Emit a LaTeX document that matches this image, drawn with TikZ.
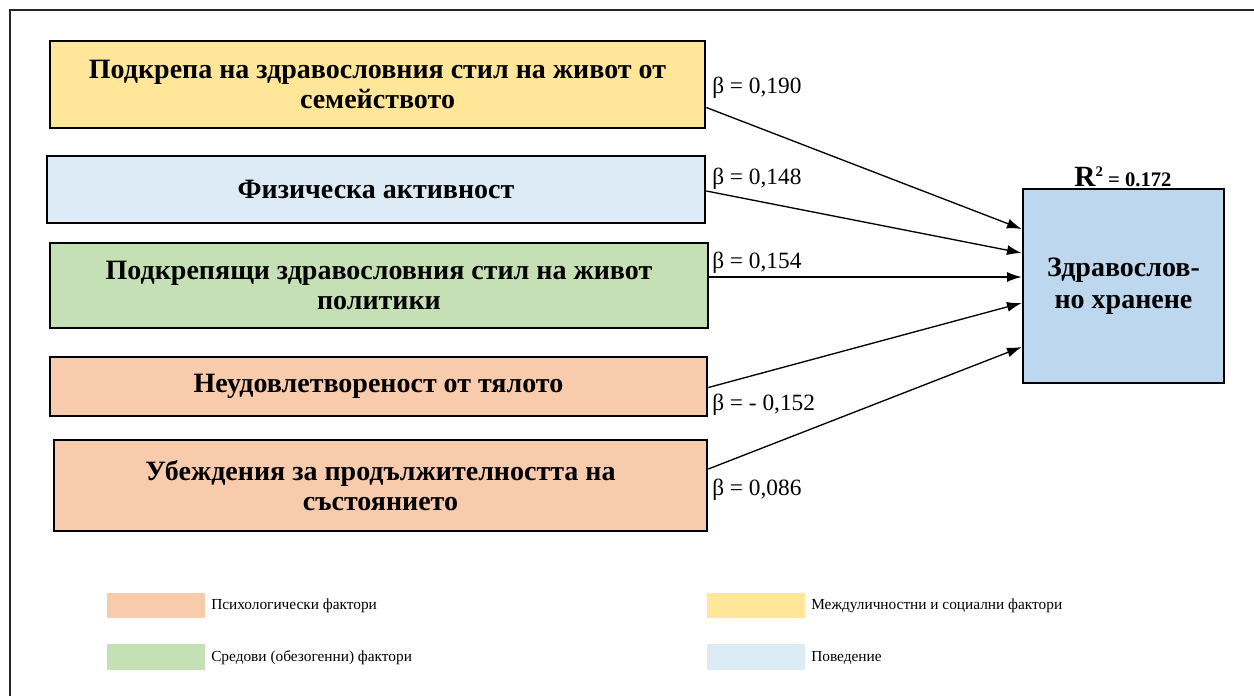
\documentclass[tikz,border=0pt]{standalone}
\usepackage{fontspec}
\setmainfont{Liberation Serif}
\usetikzlibrary{arrows.meta,calc}
\definecolor{cyellow}{HTML}{FFE699}
\definecolor{cblue}{HTML}{DDEBF7}
\definecolor{cgreen}{HTML}{C5E0B4}
\definecolor{corange}{HTML}{F8CBAD}
\definecolor{ctarget}{HTML}{BDD7EE}
\tikzset{
  factor/.style={draw=black, line width=2pt, align=center, inner sep=2pt,
    font=\fontsize{21}{22.5}\selectfont\bfseries},
  target/.style={draw=black, line width=2pt, fill=ctarget, align=center,
    minimum width=150.75pt, minimum height=145.5pt, inner sep=0pt,
    font=\fontsize{21}{24}\selectfont\bfseries},
  conn/.style={line width=1pt, -{Latex[length=11pt,width=7.5pt]}},
  beta/.style={anchor=west, inner sep=0pt, font=\fontsize{17.5}{20}\selectfont},
  swatch/.style={minimum width=73.5pt, minimum height=19pt, inner sep=0pt},
  legtext/.style={anchor=west, inner sep=0pt, font=\fontsize{11.5}{14}\selectfont},
}
\begin{document}
\begin{tikzpicture}[x=0.75pt,y=-0.75pt]
\useasboundingbox (0,0) rectangle (1254,696);
% frame
\draw[line width=1.3pt, black!85] (1254,10) -- (10,10) -- (10,696);
% factor boxes
\node[factor, fill=cyellow, minimum width=491.25pt, minimum height=65.25pt] (b1) at (377.5,84.5)
  {Подкрепа на здравословния стил на живот от\\семейството};
\node[factor, fill=cblue, minimum width=493.5pt, minimum height=50.25pt] (b2) at (376,189.5)
  {Физическа активност};
\node[factor, fill=cgreen, minimum width=493.5pt, minimum height=63.75pt] (b3) at (379,285.5)
  {Подкрепящи здравословния стил на живот\\политики};
\node[factor, fill=corange, minimum width=492.75pt, minimum height=44.25pt] (b4) at (378.5,386.5)
  {Неудовлетвореност от тялото};
\node[factor, fill=corange, minimum width=489.75pt, minimum height=68.25pt] (b5) at (380.5,485.5)
  {Убеждения за продължителността на\\състоянието};
% target
\node[target] (t) at (1123.5,286) {Здравослов-\\но хранене};
\node[anchor=base, inner sep=0pt, font=\bfseries] (r2) at (1123,186)
  {{\fontsize{22}{24}\selectfont R}\raisebox{7.5pt}{\fontsize{11}{12}\selectfont 2}{\fontsize{15.5}{18}\selectfont\ = 0.172}};
% connectors
\draw[conn] ($(b1.east)+(0,23)$) -- ($(t.west)+(0,-57)$);
\draw[conn] ($(b2.east)+(0,1.5)$) -- ($(t.west)+(0,-33)$);
\draw[conn] ($(b3.east)+(0,-8.5)$) -- ($(t.west)+(0,-9)$);
\draw[conn] ($(b4.east)+(0,1)$) -- ($(t.west)+(0,17)$);
\draw[conn] ($(b5.east)+(0,-16.5)$) -- ($(t.west)+(0,61)$);
% beta labels
\node[beta] (l1) at (712,88) {β = 0,190};
\node[beta] (l2) at (712,179) {β = 0,148};
\node[beta] (l3) at (712,263) {β = 0,154};
\node[beta] (l4) at (712,405) {β = - 0,152};
\node[beta] (l5) at (712,490) {β = 0,086};
% legend
\node[swatch, fill=corange] (s1) at (156,605.5) {};
\node[legtext] (t1) at (211,606) {Психологически фактори};
\node[swatch, fill=cgreen] (s2) at (156,657) {};
\node[legtext] (t2) at (211,658) {Средови (обезогенни) фактори};
\node[swatch, fill=cyellow] (s3) at (756,605.5) {};
\node[legtext] (t3) at (811,606) {Междуличностни и социални фактори};
\node[swatch, fill=cblue] (s4) at (756,657) {};
\node[legtext] (t4) at (811,658) {Поведение};
\end{tikzpicture}
\end{document}
